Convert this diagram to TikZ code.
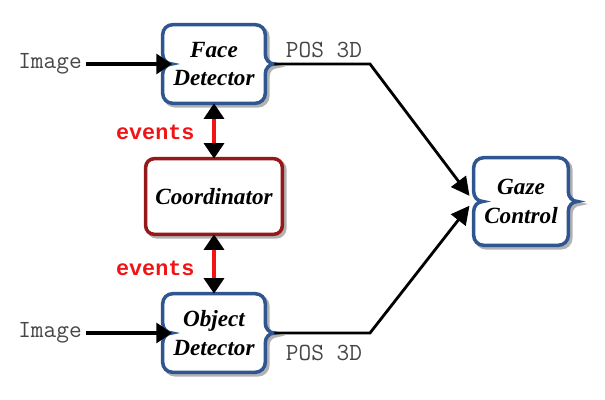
\documentclass[tikz,border=0pt]{standalone}
\usepackage{fontspec}
\setmainfont{Liberation Serif}
\newfontfamily\evfont{Liberation Mono}
\usepackage{tikz}
\usetikzlibrary{arrows.meta}
\usetikzlibrary{calc}

\definecolor{boxblue}{RGB}{48,86,145}
\definecolor{boxred}{RGB}{150,25,25}
\definecolor{evred}{RGB}{240,20,20}
\definecolor{txtgray}{RGB}{70,70,70}

\pgfdeclarelayer{background}
\pgfsetlayers{background,main}

% outline with a notch on the left and a bump on the right
\newcommand\bracepath[1]{%
	([xshift=7pt]#1.north west) -- ([xshift=-7pt]#1.north east)
	to[out=0,in=90] ([yshift=-7pt]#1.north east) -- ([yshift=7pt]#1.east)
	to[out=-90,in=180] ([xshift=6.5pt]#1.east) to[out=180,in=90] ([yshift=-7pt]#1.east)
	-- ([yshift=7pt]#1.south east) to[out=-90,in=0] ([xshift=-7pt]#1.south east)
	-- ([xshift=7pt]#1.south west) to[out=180,in=-90] ([yshift=7pt]#1.south west)
	-- ([yshift=-7pt]#1.west) to[out=90,in=180] ([xshift=6.5pt]#1.west)
	to[out=180,in=-90] ([yshift=7pt]#1.west) -- ([yshift=-7pt]#1.north west)
	to[out=90,in=180] ([xshift=7pt]#1.north west) -- cycle}

\begin{document}
\begin{tikzpicture}[x=0.025cm,y=0.025cm]
	\useasboundingbox (0,0) rectangle (605,400);
	\begin{scope}[every node/.style = {inner sep=0pt, align=center,
			font=\fontsize{16.5}{20.5}\selectfont\bfseries\itshape}]
		\node[minimum width=2.55cm, minimum height=1.95cm] (FD) at (214,336) {Face\\Detector};
		\node[minimum width=3.4cm, minimum height=1.875cm] (CO) at (214,203.5) {Coordinator};
		\node[minimum width=2.55cm, minimum height=1.95cm] (OD) at (214,67) {Object\\Detector};
		\node[minimum width=2.35cm, minimum height=2.175cm] (GC) at (521,198.5) {Gaze\\Control};
	\end{scope}
	\begin{scope}[every node/.style = {inner sep=3pt, text=txtgray,
			font=\fontsize{17.5}{20}\selectfont\ttfamily}]
		\node (img1) at (50,336) {Image};
		\node (img2) at (50,67) {Image};
		\node (pos1) at (324,350) {POS 3D};
		\node (pos2) at (324,47) {POS 3D};
		\node[text=evred, anchor=east, font=\fontsize{15.5}{18}\selectfont\evfont\bfseries] (ev1) at (199,268) {events};
		\node[text=evred, anchor=east, font=\fontsize{15.5}{18}\selectfont\evfont\bfseries] (ev2) at (199,132) {events};
	\end{scope}
	\begin{pgfonlayer}{background}
		\foreach \b in {FD,OD,GC} {
			\draw[black!30, line width=2.5pt, transform canvas={shift={(1.8pt,-1.8pt)}}] \bracepath{\b};
			\draw[boxblue, fill=white, line width=2.5pt] \bracepath{\b};
		}
		\draw[black!30, line width=2.5pt, rounded corners=6pt, transform canvas={shift={(1.8pt,-1.8pt)}}]
			(CO.north west) rectangle (CO.south east);
		\draw[boxred, fill=white, line width=2.5pt, rounded corners=6pt]
			(CO.north west) rectangle (CO.south east);
	\end{pgfonlayer}
	\coordinate (FD-in) at ([xshift=6.5pt]FD.west);
	\coordinate (OD-in) at ([xshift=6.5pt]OD.west);
	\coordinate (FD-out) at ([xshift=6.5pt]FD.east);
	\coordinate (OD-out) at ([xshift=6.5pt]OD.east);
	\coordinate (bend1) at (370,336);
	\coordinate (bend2) at (370,67);
	\coordinate (GC-in1) at ([xshift=-3pt,yshift=4pt]GC.west);
	\coordinate (GC-in2) at ([xshift=-3pt,yshift=-3pt]GC.west);
	\begin{scope}[>={Triangle[black, length=11pt, width=14pt]},
			every edge/.style={draw=black, line width=3.2pt}]
		\path [->] (img1) edge (FD-in);
		\path [->] (img2) edge (OD-in);
		\draw [-{Triangle[length=13pt, width=13pt]}, line width=2pt] (FD-out) -- (bend1) -- (GC-in1);
		\draw [-{Triangle[length=13pt, width=13pt]}, line width=2pt] (OD-out) -- (bend2) -- (GC-in2);
		\path [<->, every edge/.style={draw=evred, line width=3pt}] (FD.south) edge (CO.north);
		\path [<->, every edge/.style={draw=evred, line width=3pt}] (CO.south) edge (OD.north);
	\end{scope}
\end{tikzpicture}
\end{document}
